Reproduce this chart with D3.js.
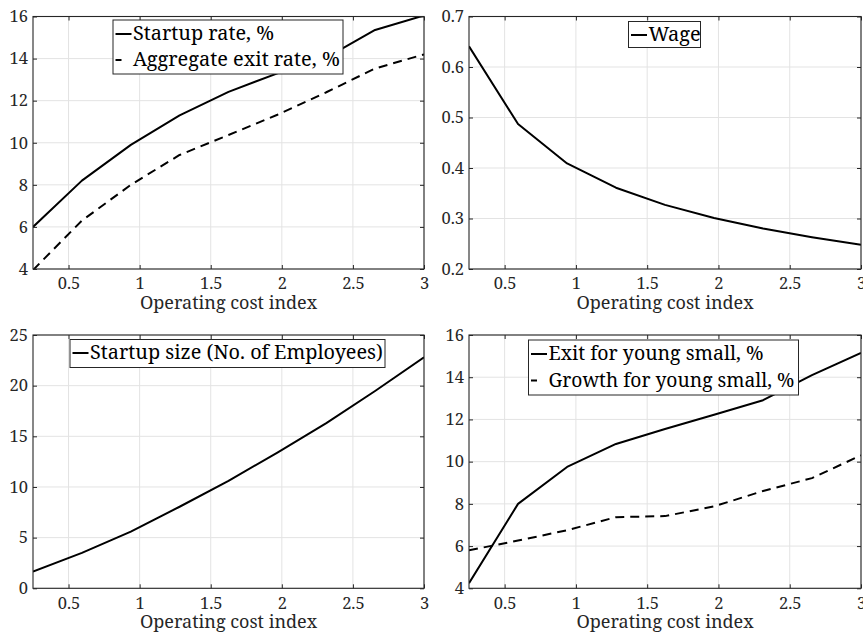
<!DOCTYPE html>
<html>
<head>
<meta charset="utf-8">
<script src="https://cdn.jsdelivr.net/npm/d3@7"></script>
<style>
  html, body { margin: 0; padding: 0; background: #fff; }
  svg { display: block; }
</style>
</head>
<body>
<svg id="chart" width="863" height="634"></svg>
<script>
// ---------------- data ----------------
const costIndex = [0.25, 0.594, 0.938, 1.281, 1.625, 1.969, 2.313, 2.656, 3.0];
const startupRate = [6.0, 8.2, 9.9, 11.3, 12.42, 13.3, 14.05, 15.36, 16.05];
const aggExitRate = [3.95, 6.3, 8.0, 9.42, 10.37, 11.33, 12.4, 13.53, 14.2];
const wage = [0.641, 0.487, 0.409, 0.361, 0.327, 0.301, 0.280, 0.263, 0.248];
const startupSize = [1.65, 3.5, 5.6, 8.05, 10.6, 13.4, 16.3, 19.47, 22.8];
const exitYoungSmall = [4.24, 8.0, 9.75, 10.84, 11.55, 12.22, 12.91, 14.1, 15.15];
const growthYoungSmall = [5.8, 6.26, 6.75, 7.37, 7.42, 7.88, 8.61, 9.22, 10.3];

const xTicks = [0.5, 1, 1.5, 2, 2.5, 3];
const xTickLabels = ["0.5", "1", "1.5", "2", "2.5", "3"];
const yTicks1 = [4, 6, 8, 10, 12, 14, 16];
const yTicks2 = [0.2, 0.3, 0.4, 0.5, 0.6, 0.7];
const yTicks3 = [0, 5, 10, 15, 20, 25];
const yTicks4 = [4, 6, 8, 10, 12, 14, 16];
const xLabel = "Operating cost index";

const panels = [
  { box: [33, 16.5, 424, 269], yDomain: [4, 16], yTicks: yTicks1, labelOff: 40,
    series: [ { name: "Startup rate, %", values: startupRate, dash: null },
              { name: "Aggregate exit rate, %", values: aggExitRate, dash: "9,6" } ],
    legend: { x: 113, y: 20, w: 230, h: 54, rows: [40, 66], widths: [141, 207] } },
  { box: [469, 16.5, 861, 269], yDomain: [0.2, 0.7], yTicks: yTicks2, labelOff: 40,
    series: [ { name: "Wage", values: wage, dash: null } ],
    legend: { x: 628.5, y: 21.5, w: 72, h: 26, rows: [41], widths: [53] } },
  { box: [33, 335, 424, 588.3], yDomain: [0, 25], yTicks: yTicks3, labelOff: 40,
    series: [ { name: "Startup size (No. of Employees)", values: startupSize, dash: null } ],
    legend: { x: 70, y: 339.5, w: 315, h: 28, rows: [359], widths: [293] } },
  { box: [469, 335, 861, 588.3], yDomain: [4, 16], yTicks: yTicks4, labelOff: 40,
    series: [ { name: "Exit for young small, %", values: exitYoungSmall, dash: null },
              { name: "Growth for young small, %", values: growthYoungSmall, dash: "9,6" } ],
    legend: { x: 528.5, y: 340, w: 270, h: 55, rows: [360, 386.5], widths: [215, 246] } }
];

const svg = d3.select("#chart");
const axisColor = "#262626";
const gridColor = "#e3e3e3";
const FONT = '"Noto Serif", "Liberation Serif", serif';

panels.forEach((p, i) => {
  const [x0, y0, x1, y1] = p.box;
  const x = d3.scaleLinear().domain([0.25, 3]).range([x0, x1]);
  const y = d3.scaleLinear().domain(p.yDomain).range([y1, y0]);
  const g = svg.append("g");

  // grid
  g.selectAll(".gx").data(xTicks).join("line")
    .attr("x1", d => x(d)).attr("x2", d => x(d)).attr("y1", y0).attr("y2", y1)
    .attr("stroke", gridColor).attr("stroke-width", 1);
  g.selectAll(".gy").data(p.yTicks).join("line")
    .attr("x1", x0).attr("x2", x1).attr("y1", d => y(d)).attr("y2", d => y(d))
    .attr("stroke", gridColor).attr("stroke-width", 1);

  // clip
  const clipId = "clip" + i;
  svg.append("clipPath").attr("id", clipId).append("rect")
    .attr("x", x0).attr("y", y0).attr("width", x1 - x0).attr("height", y1 - y0);

  // lines
  const line = d3.line().x((d, j) => x(costIndex[j])).y(d => y(d));
  p.series.forEach(s => {
    g.append("path").datum(s.values)
      .attr("clip-path", `url(#${clipId})`)
      .attr("d", line)
      .attr("fill", "none").attr("stroke", "#000").attr("stroke-width", 2)
      .attr("stroke-linejoin", "round")
      .attr("stroke-dasharray", s.dash);
  });

  // axes using d3 axes (ticks inside)
  const fmt = d => xTickLabels[xTicks.indexOf(d)];
  const bottom = g.append("g").attr("transform", `translate(0,${y1})`)
    .call(d3.axisBottom(x).tickValues(xTicks).tickFormat(fmt).tickSizeInner(-4).tickSizeOuter(0).tickPadding(8));
  const top = g.append("g").attr("transform", `translate(0,${y0})`)
    .call(d3.axisTop(x).tickValues(xTicks).tickFormat("").tickSizeInner(-4).tickSizeOuter(0));
  const left = g.append("g").attr("transform", `translate(${x0},0)`)
    .call(d3.axisLeft(y).tickValues(p.yTicks).tickFormat(d => String(+d.toFixed(2))).tickSizeInner(-4).tickSizeOuter(0).tickPadding(5));
  const right = g.append("g").attr("transform", `translate(${x1},0)`)
    .call(d3.axisRight(y).tickValues(p.yTicks).tickFormat("").tickSizeInner(-4).tickSizeOuter(0));
  [bottom, top, left, right].forEach(a => {
    a.select(".domain").remove();
    a.selectAll(".tick line").attr("stroke", axisColor).attr("stroke-width", 1);
    a.selectAll("text").style("font-family", FONT).style("font-size", "16.5px").attr("fill", axisColor);
  });
  bottom.selectAll("text").attr("dy", "0.74em");

  // box
  g.append("rect").attr("x", x0).attr("y", y0).attr("width", x1 - x0).attr("height", y1 - y0)
    .attr("fill", "none").attr("stroke", axisColor).attr("stroke-width", 1.1);

  // x label
  g.append("text").attr("x", (x0 + x1) / 2).attr("y", y1 + p.labelOff)
    .attr("text-anchor", "middle")
    .style("font-family", FONT).style("font-size", "18px").attr("fill", axisColor)
    .text(xLabel);

  // legend
  const L = p.legend;
  const lg = svg.append("g");
  lg.append("rect").attr("x", L.x).attr("y", L.y).attr("width", L.w).attr("height", L.h)
    .attr("fill", "#fff").attr("stroke", axisColor).attr("stroke-width", 1);
  p.series.forEach((s, k) => {
    const by = L.rows[k];
    lg.append("line")
      .attr("x1", L.x + 2.5).attr("x2", L.x + 18.5)
      .attr("y1", by - 6).attr("y2", by - 6)
      .attr("stroke", "#000").attr("stroke-width", 2)
      .attr("stroke-dasharray", s.dash ? "6,12" : null);
    const t = lg.append("text").attr("x", L.x + 20).attr("y", by)
      .style("font-family", FONT).style("font-size", "19px").attr("fill", "#000")
      .text(s.name);
    const w = t.node().getComputedTextLength();
    const target = L.widths[k];
    if (Math.abs(w - target) > 2) {
      t.style("font-size", Math.min(20, 19 * target / w).toFixed(2) + "px");
    }
  });
});
</script>
</body>
</html>
